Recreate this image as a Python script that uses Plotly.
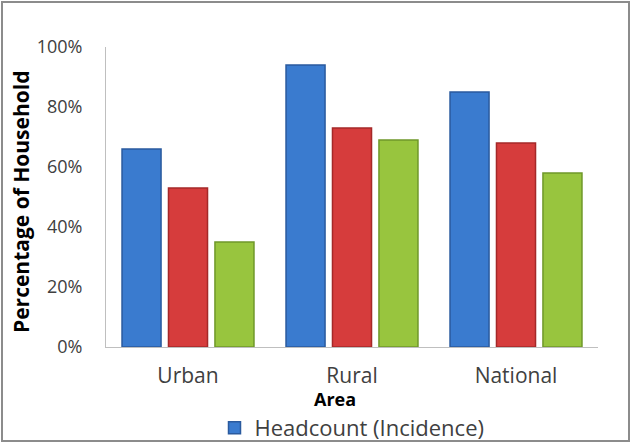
import plotly.graph_objects as go

# Share of households by area for each poverty measure
areas = ["Urban", "Rural", "National"]
headcount = [66, 94, 85]
series_red = [53, 73, 68]
series_green = [35, 69, 58]

y_ticks = [0, 20, 40, 60, 80, 100]
y_tick_labels = ["0%", "20%", "40%", "60%", "80%", "100%"]

W, H = 631, 444
L, R, T, B = 106, 33, 47, 97
pw, ph = W - L - R, H - T - B

def px_to_paper_x(px):
    return (px - L) / pw

def px_to_paper_y(py):
    return (H - B - py) / ph

fig = go.Figure()
fig.add_bar(
    x=areas, y=headcount, name="Headcount (Incidence)",
    marker=dict(color="#3a7bcf", line=dict(color="#2a5a9e", width=1.5)),
    showlegend=True,
)
fig.add_bar(
    x=areas, y=series_red, name="Series 2",
    marker=dict(color="#d63c3c", line=dict(color="#a52828", width=1.5)),
    showlegend=False,
)
fig.add_bar(
    x=areas, y=series_green, name="Series 3",
    marker=dict(color="#98c53e", line=dict(color="#6f982a", width=1.5)),
    showlegend=False,
)

font_family = "'Open Sans', sans-serif"

fig.update_layout(
    width=W, height=H,
    margin=dict(l=L, r=R, t=T, b=B, autoexpand=False),
    paper_bgcolor="white",
    plot_bgcolor="white",
    barmode="group",
    bargap=0.15,
    bargroupgap=0.16,
    font=dict(family=font_family, color="#404040", size=18),
    legend=dict(
        orientation="h", x=0.5, xanchor="center",
        y=px_to_paper_y(428), yanchor="middle",
        font=dict(size=22, color="#404040"),
        itemwidth=30,
        bgcolor="rgba(0,0,0,0)",
    ),
    xaxis=dict(
        showline=True, linecolor="#bfbfbf", linewidth=1,
        ticks="", ticklabelstandoff=10,
        tickfont=dict(size=21, color="#404040"),
        showgrid=False,
    ),
    yaxis=dict(
        range=[0, 100], tickvals=y_ticks, ticktext=y_tick_labels,
        showline=True, linecolor="#bfbfbf", linewidth=1,
        ticks="", ticklabelstandoff=19,
        tickfont=dict(size=18, color="#404040"),
        showgrid=False, zeroline=False,
    ),
    annotations=[
        dict(text="<b>Percentage of Household</b>", textangle=-90,
             x=px_to_paper_x(21), y=px_to_paper_y(202),
             xanchor="center", yanchor="middle",
             xref="paper", yref="paper", showarrow=False,
             font=dict(size=21, color="#000000")),
        dict(text="<b>Area</b>",
             x=px_to_paper_x(335), y=px_to_paper_y(399),
             xanchor="center", yanchor="middle",
             xref="paper", yref="paper", showarrow=False,
             font=dict(size=18, color="#000000")),
    ],
    shapes=[
        dict(type="rect", xref="paper", yref="paper",
             x0=px_to_paper_x(2), x1=px_to_paper_x(629),
             y0=px_to_paper_y(441), y1=px_to_paper_y(2),
             line=dict(color="#8c8c8c", width=2), layer="below"),
    ],
)

fig.write_html("out.html")
